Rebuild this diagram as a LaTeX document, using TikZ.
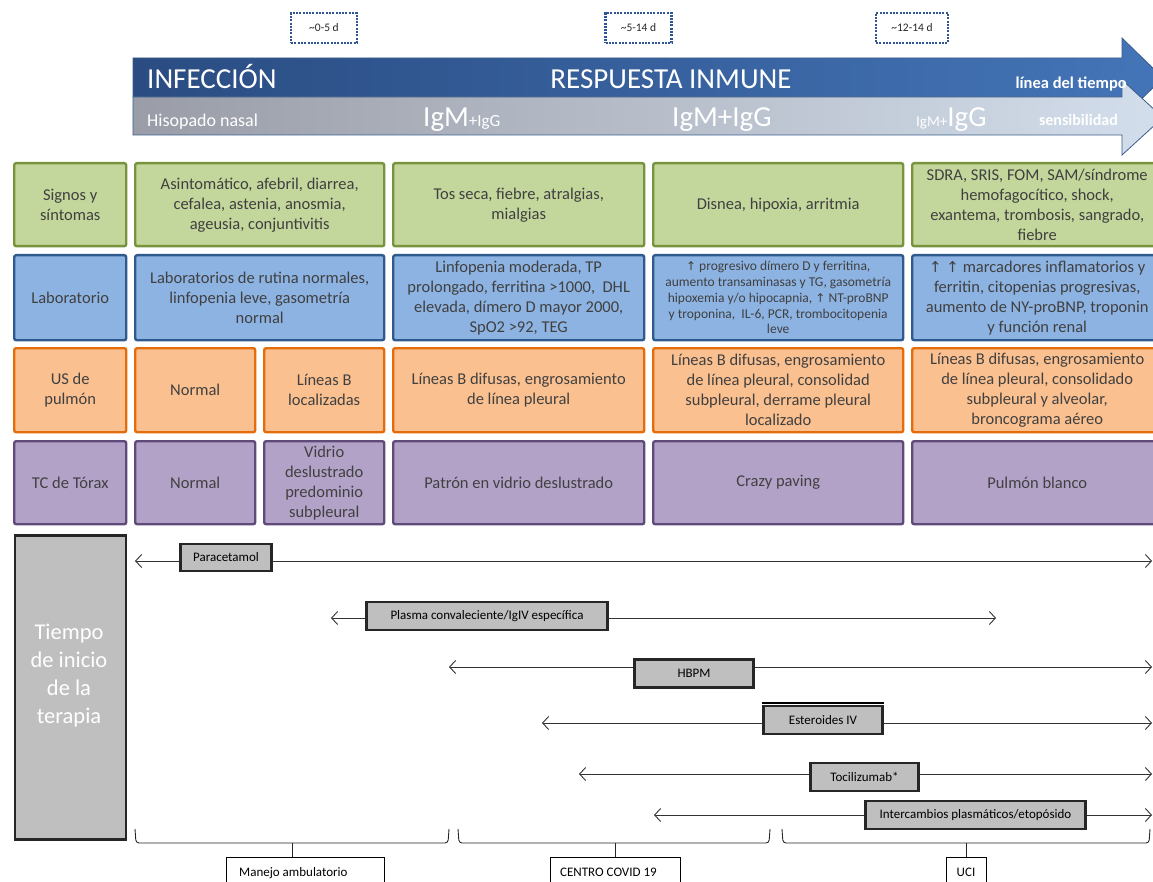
\documentclass[tikz,border=0pt]{standalone}
\usepackage{fontspec}
\setmainfont{Carlito}
\newfontfamily\dvs{DejaVu Sans}
\usetikzlibrary{arrows.meta}
\definecolor{gfill}{HTML}{C3D69B}
\definecolor{gdraw}{HTML}{77933C}
\definecolor{bfill}{HTML}{8DB3E2}
\definecolor{bdraw}{HTML}{2F5A8E}
\definecolor{ofill}{HTML}{FAC090}
\definecolor{odraw}{HTML}{E46C0A}
\definecolor{pfill}{HTML}{B3A2C7}
\definecolor{pdraw}{HTML}{5F4A7A}
\definecolor{celltext}{HTML}{404040}
\definecolor{tgrey}{HTML}{BFBFBF}
\definecolor{tdraw}{HTML}{262626}
\definecolor{dblueL}{HTML}{2A4C82}
\definecolor{dblueR}{HTML}{4475B8}
\definecolor{lgreyL}{HTML}{9A9DA7}
\definecolor{lgreyR}{HTML}{D3DEEC}
\definecolor{arrowline}{HTML}{385D8A}
\definecolor{dotblue}{HTML}{2F5597}
\newcommand{\fs}[2]{\fontsize{#1}{#2}\selectfont}
\newcommand{\up}{{\dvs\fontsize{12}{13}\selectfont ↑}}
\begin{document}
\begin{tikzpicture}[x=1pt,y=-1pt,
  cell/.style={rounded corners=2pt, line width=2.4pt, anchor=north west, inner sep=0pt,
    align=center, text=celltext, font=\fs{16.5}{20}},
  cg/.style={cell, fill=gfill, draw=gdraw},
  cb/.style={cell, fill=bfill, draw=bdraw},
  co/.style={cell, fill=ofill, draw=odraw},
  cp/.style={cell, fill=pfill, draw=pdraw},
  tbox/.style={fill=tgrey, draw=tdraw, line width=2.6pt, inner sep=0pt, font=\fs{13}{15}, text=black},
  tline/.style={draw=black!80, line width=0.9pt, {Straight Barb[length=6pt,width=13pt,line width=0.9pt]}-{Straight Barb[length=6pt,width=13pt,line width=0.9pt]}},
  daybox/.style={draw=dotblue, line width=2.2pt, dash pattern=on 2pt off 1.3pt, minimum width=66, minimum height=30, inner sep=0pt, font=\fs{11.5}{13}, text=black!85},
  bracket/.style={draw=black!85, line width=0.9pt, rounded corners=3pt},
  obox/.style={draw=black, line width=0.9pt, fill=white, inner sep=0pt, anchor=north west, font=\fs{13}{15}, text=black}
]
\useasboundingbox[fill=white] (0,0) rectangle (1153,882);

% day boxes
\node[daybox] (d1) at (324,28) {\textasciitilde 0-5 d};
\node[daybox] (d2) at (638.5,28) {\textasciitilde 5-14 d};
\node[daybox, minimum width=72] (d3) at (912,28) {\textasciitilde 12-14 d};

% big arrows
\path[left color=dblueL, right color=dblueR, draw=arrowline, line width=0.8pt]
  (133,58) -- (1122,58) -- (1122,38) -- (1163,78) -- (1122,118) -- (1122,97) -- (133,97) -- cycle;
\path[left color=lgreyL, right color=lgreyR, draw=arrowline, line width=0.8pt]
  (133,97) -- (1122,97) -- (1122,80) -- (1163,117.5) -- (1122,155) -- (1122,135) -- (133,135) -- cycle;

\node[anchor=base west, text=white, font=\fs{29}{31}, inner sep=0pt] (inf) at (147,89) {INFECCIÓN};
\node[anchor=base, text=white, font=\fs{29}{31}, inner sep=0pt] (resp) at (671,89) {RESPUESTA INMUNE};
\node[anchor=base east, text=white, font=\bfseries\fs{16.5}{18}, inner sep=0pt] (lin) at (1127,89) {línea del tiempo};
\node[anchor=base west, text=white, font=\fs{18}{20}, inner sep=0pt] (hiso) at (147,127) {Hisopado nasal};
\node[anchor=base west, text=white, inner sep=0pt] (ig1) at (423,127) {{\fs{29}{31}IgM}{\fs{17}{18}+IgG}};
\node[anchor=base west, text=white, inner sep=0pt] (ig2) at (672,127) {\fs{29}{31}IgM+IgG};
\node[anchor=base west, text=white, inner sep=0pt] (ig3) at (916,127) {{\fs{15}{18}IgM+}{\fs{29}{31}IgG}};
\node[anchor=base east, text=white, font=\bfseries\fs{16}{18}, inner sep=0pt] (sens) at (1118,126) {sensibilidad};

% row 1 (green)
\node[cg, minimum width=112, minimum height=83] (s0) at (13,162) {Signos y\\síntomas};
\node[cg, minimum width=249, minimum height=83] (s1) at (134,162) {Asintomático, afebril, diarrea,\\cefalea, astenia, anosmia,\\ageusia, conjuntivitis};
\node[cg, minimum width=251, minimum height=83] (s2) at (392,162) {Tos seca, fiebre, atralgias,\\mialgias};
\node[cg, minimum width=250, minimum height=83] (s3) at (652,162) {Disnea, hipoxia, arritmia};
\node[cg, minimum width=250, minimum height=83] (s4) at (911,162) {SDRA, SRIS, FOM, SAM/síndrome\\hemofagocítico, shock,\\exantema, trombosis, sangrado,\\fiebre};

% row 2 (blue)
\node[cb, minimum width=112, minimum height=85] (l0) at (13,254) {Laboratorio};
\node[cb, minimum width=249, minimum height=85] (l1) at (134,254) {Laboratorios de rutina normales,\\linfopenia leve, gasometría\\normal};
\node[cb, minimum width=251, minimum height=85] (l2) at (392,254) {Linfopenia moderada, TP\\prolongado, ferritina >1000,~ DHL\\elevada, dímero D mayor 2000,\\SpO2 >92, TEG};
\node[cb, minimum width=250, minimum height=85, font=\fs{13.5}{15.8}] (l3) at (652,254) {\up{} progresivo dímero D y ferritina,\\aumento transaminasas y TG, gasometría\\hipoxemia y/o hipocapnia, \up{} NT-proBNP\\y troponina,~ IL-6, PCR, trombocitopenia\\leve};
\node[cb, minimum width=250, minimum height=85] (l4) at (911,254) {{\dvs\fs{15}{20}↑ ↑} marcadores inflamatorios y\\ferritin, citopenias progresivas,\\aumento de NY-proBNP, troponin\\y función renal};

% row 3 (orange)
\node[co, minimum width=112, minimum height=84] (u0) at (13,347) {US de\\pulmón};
\node[co, minimum width=120, minimum height=84] (u1a) at (134,347) {Normal};
\node[co, minimum width=120, minimum height=84] (u1b) at (263,347) {Líneas B\\localizadas};
\node[co, minimum width=251, minimum height=84] (u2) at (392,347) {Líneas B difusas, engrosamiento\\de línea pleural};
\node[co, minimum width=250, minimum height=84] (u3) at (652,347) {Líneas B difusas, engrosamiento\\de línea pleural, consolidad\\subpleural, derrame pleural\\localizado};
\node[co, minimum width=250, minimum height=84] (u4) at (911,347) {Líneas B difusas, engrosamiento\\de línea pleural, consolidado\\subpleural y alveolar,\\broncograma aéreo};

% row 4 (purple)
\node[cp, minimum width=112, minimum height=83] (t0) at (13,440) {TC de Tórax};
\node[cp, minimum width=120, minimum height=83] (t1a) at (134,440) {Normal};
\node[cp, minimum width=120, minimum height=83] (t1b) at (263,440) {Vidrio\\deslustrado\\predominio\\subpleural};
\node[cp, minimum width=251, minimum height=83] (t2) at (392,440) {Patrón en vidrio deslustrado};
\node[cp, minimum width=250, minimum height=83] (t3) at (652,440) {Crazy paving};
\node[cp, minimum width=250, minimum height=83] (t4) at (911,440) {Pulmón blanco};

% therapy label
\node[fill=tgrey, draw=tdraw, line width=2.8pt, anchor=north west, minimum width=111, minimum height=304,
  inner sep=0pt] (tiempo) at (13.5,534) {};
\node[align=center, text=white, font=\fs{22.5}{28}, inner sep=0pt] (tiempot) at (69,676) {Tiempo\\de inicio\\de la\\terapia};

% therapy lines
\coordinate (a1l) at (135,561);  \coordinate (a1r) at (1152,561);
\coordinate (a2l) at (331,618);  \coordinate (a2r) at (996,618);
\coordinate (a3l) at (449,667);  \coordinate (a3r) at (1152,667);
\coordinate (a4l) at (542,723);  \coordinate (a4r) at (1152,723);
\coordinate (a5l) at (579,774);  \coordinate (a5r) at (1152,774);
\coordinate (a6l) at (654,815);  \coordinate (a6r) at (1152,815);
\draw[tline] (a1l) -- (a1r);
\draw[tline] (a2l) -- (a2r);
\draw[tline] (a3l) -- (a3r);
\draw[tline] (a4l) -- (a4r);
\draw[tline] (a5l) -- (a5r);
\draw[tline] (a6l) -- (a6r);
\node[tbox, minimum width=91, minimum height=27] (para) at (226,557.5) {Paracetamol};
\node[tbox, minimum width=241, minimum height=28] (plas) at (487,616) {Plasma convaleciente/IgIV específica};
\node[tbox, minimum width=119, minimum height=28] (hbpm) at (694,673.5) {HBPM};
\node[tbox, minimum width=119, minimum height=28] (est) at (823,720) {Esteroides IV};
\draw[line width=2.2pt, black] ([yshift=1.5pt]est.north west) -- ([yshift=1.5pt]est.north east);
\node[tbox, minimum width=108, minimum height=28] (toci) at (864.5,777) {Tocilizumab*};
\node[tbox, minimum width=220, minimum height=28] (inter) at (975.5,815) {Intercambios plasmáticos/etopósido};

% brackets
\coordinate (b1m) at (292,843);
\coordinate (b2m) at (615,843);
\coordinate (b3m) at (966,843);
\draw[bracket] (135,829) -- (136,843) -- (448,843) -- (449,829);
\draw[bracket] (458,829) -- (459,843) -- (769,843) -- (770,829);
\draw[bracket] (782,829) -- (783,843) -- (1149,843) -- (1150,829);
\node[obox, minimum width=158, minimum height=32] (man) at (226,857) {};
\node[anchor=base west, inner sep=0pt, font=\fs{13}{15}] (mant) at (239,876) {Manejo ambulatorio};
\node[obox, minimum width=130, minimum height=32] (cen) at (550,857) {};
\node[anchor=base west, inner sep=0pt, font=\fs{13}{15}] (cent) at (560,876) {CENTRO COVID 19};
\node[obox, minimum width=40, minimum height=32] (uci) at (946,857) {};
\node[anchor=base, inner sep=0pt, font=\fs{13}{15}] (ucit) at (966,876) {UCI};
\draw[black!85, line width=0.9pt] (b1m) -- (man.north -| b1m);
\draw[black!85, line width=0.9pt] (b2m) -- (cen.north -| b2m);
\draw[black!85, line width=0.9pt] (b3m) -- (uci.north -| b3m);
\end{tikzpicture}
\end{document}
